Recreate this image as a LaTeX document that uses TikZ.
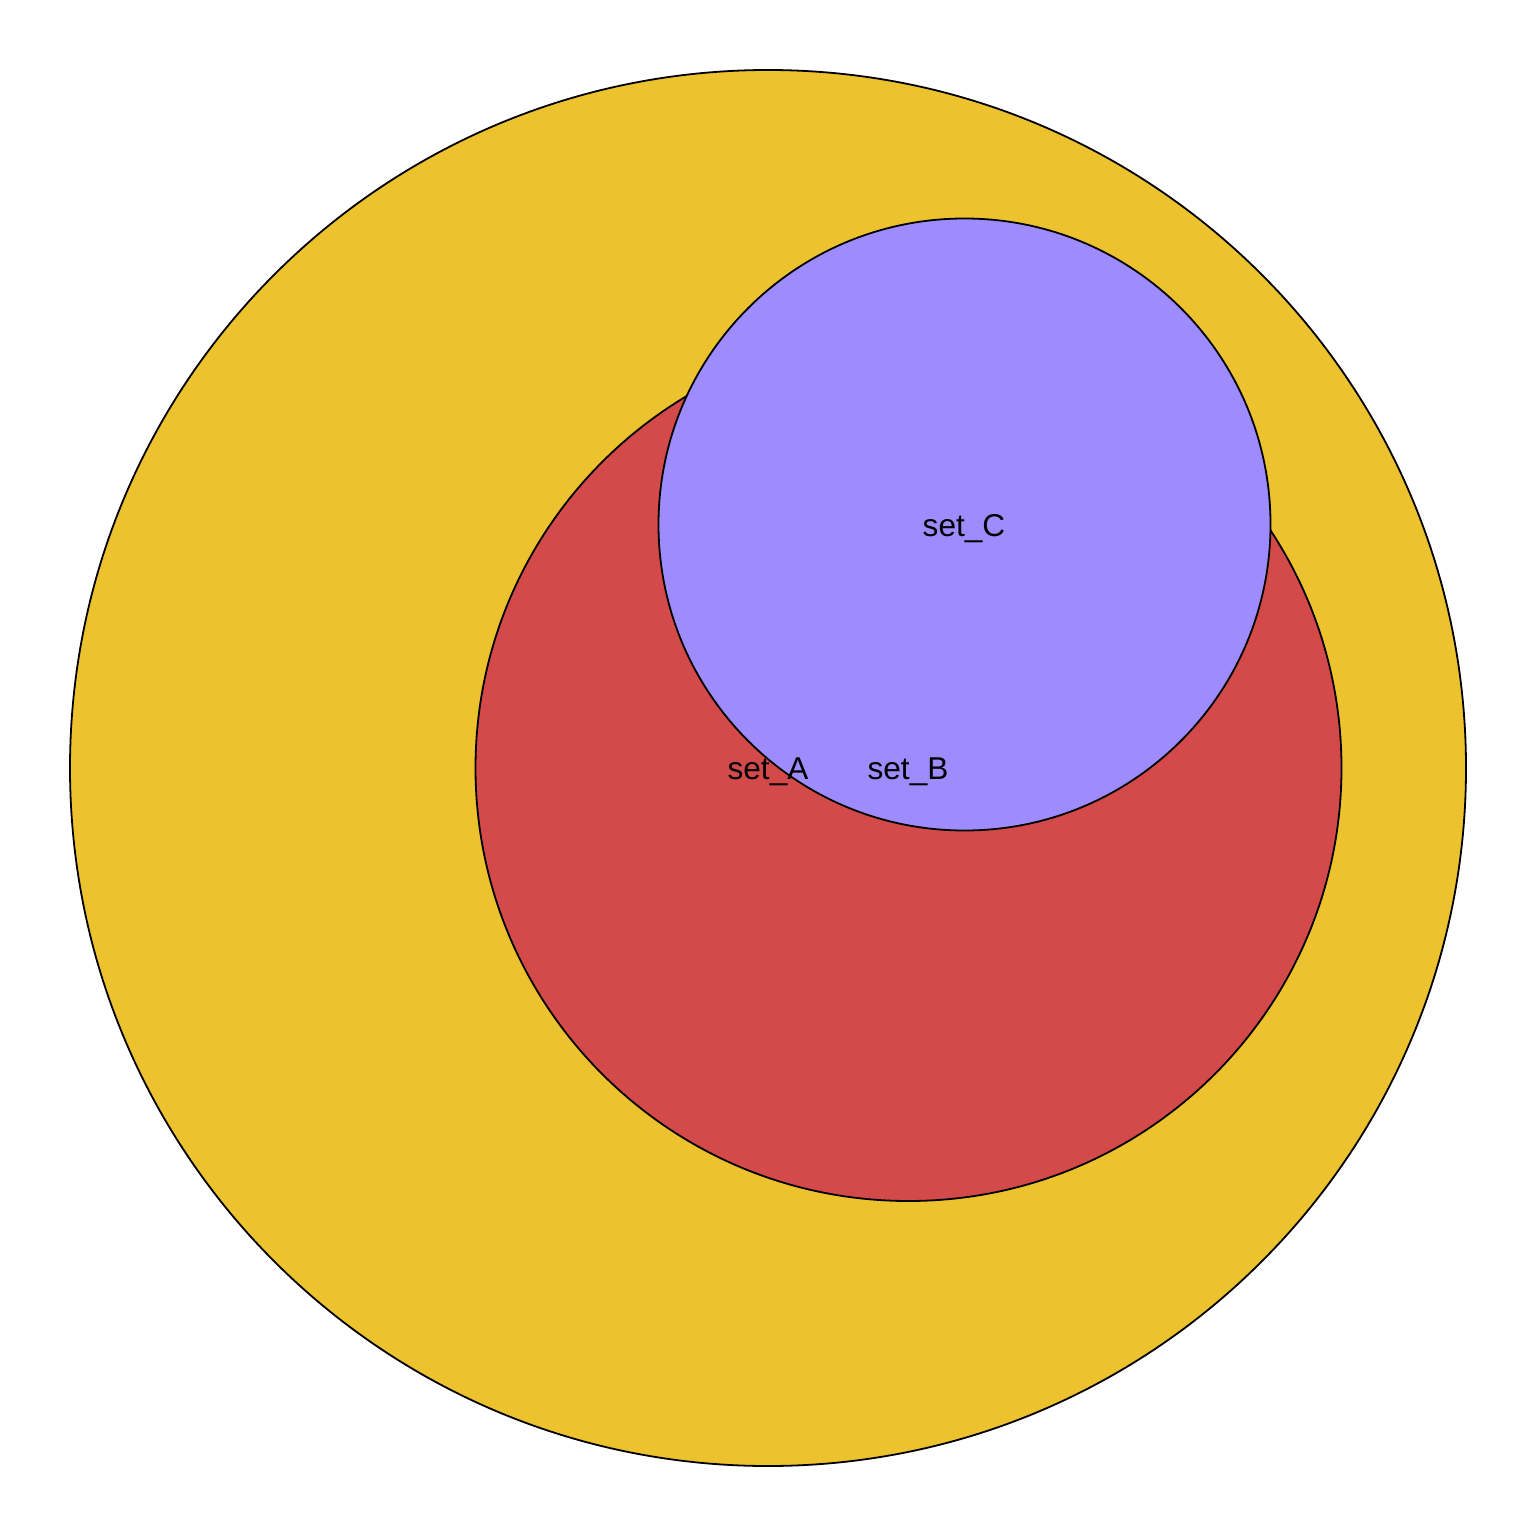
\documentclass[tikz,border=0pt]{standalone}
\usepackage{fontspec}
\setmainfont{Liberation Sans}
\definecolor{cgold}{HTML}{EDC22F}
\definecolor{cred}{HTML}{D4494A}
\definecolor{cblue}{HTML}{9E8CFE}
\begin{document}
\begin{tikzpicture}[x=0.5pt,y=-0.5pt,
  setcirc/.style={circle,draw=black,line width=0.9pt,inner sep=0pt,outer sep=0pt},
  lbl/.style={font=\fontsize{15.8}{18}\selectfont,text=black,inner sep=0pt}]
\useasboundingbox (0,0) rectangle (1536,1536);
\node[setcirc,fill=cgold,minimum size=698pt] (A) at (768,768) {};
\node[setcirc,fill=cred,minimum size=433pt] (B) at (908.5,768) {};
\node[setcirc,fill=cblue,minimum size=306pt] (C) at (964.5,524.5) {};
\node[lbl] (la) at (768,772) {set\_A};
\node[lbl] (lb) at (908,772) {set\_B};
\node[lbl] (lc) at (964,529) {set\_C};
\end{tikzpicture}
\end{document}
